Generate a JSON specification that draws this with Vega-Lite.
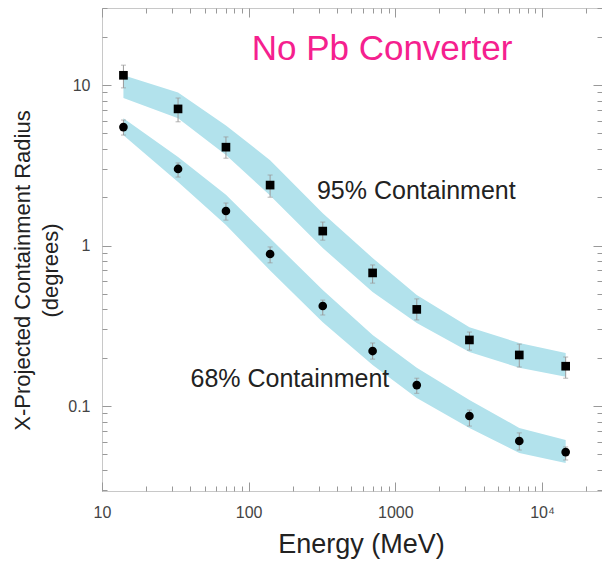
{
  "$schema": "https://vega.github.io/schema/vega-lite/v6.json",
  "autosize": "none",
  "padding": {"left": 102, "top": 8, "right": 0, "bottom": 70},
  "width": 500,
  "height": 483,
  "background": "white",
  "config": {
    "view": {"stroke": "#c8c8c8", "strokeWidth": 1},
    "font": "Liberation Sans",
    "axis": {"domain": false, "grid": false, "ticks": true, "tickColor": "#999", "tickWidth": 1, "labelOverlap": false, "labelFlush": false}
  },
  "datasets": {
    "pts": [
      {"series": "95%", "energy": 14, "radius": 11.5, "errLo": 9.6, "errHi": 13.3, "bandLo": 8.3, "bandHi": 11.5},
      {"series": "95%", "energy": 33, "radius": 7.1, "errLo": 5.9, "errHi": 8.3, "bandLo": 6.2, "bandHi": 9.0},
      {"series": "95%", "energy": 70, "radius": 4.1, "errLo": 3.5, "errHi": 4.75, "bandLo": 3.66, "bandHi": 5.6},
      {"series": "95%", "energy": 140, "radius": 2.38, "errLo": 2.0, "errHi": 2.75, "bandLo": 2.05, "bandHi": 3.4},
      {"series": "95%", "energy": 320, "radius": 1.23, "errLo": 1.08, "errHi": 1.4, "bandLo": 0.965, "bandHi": 1.59},
      {"series": "95%", "energy": 700, "radius": 0.675, "errLo": 0.583, "errHi": 0.757, "bandLo": 0.513, "bandHi": 0.836},
      {"series": "95%", "energy": 1400, "radius": 0.4, "errLo": 0.344, "errHi": 0.465, "bandLo": 0.329, "bandHi": 0.492},
      {"series": "95%", "energy": 3200, "radius": 0.258, "errLo": 0.223, "errHi": 0.289, "bandLo": 0.217, "bandHi": 0.31},
      {"series": "95%", "energy": 7000, "radius": 0.208, "errLo": 0.175, "errHi": 0.243, "bandLo": 0.173, "bandHi": 0.247},
      {"series": "95%", "energy": 14500, "radius": 0.177, "errLo": 0.149, "errHi": 0.202, "bandLo": 0.152, "bandHi": 0.214},
      {"series": "68%", "energy": 14, "radius": 5.47, "errLo": 4.88, "errHi": 6.05, "bandLo": 4.87, "bandHi": 6.2},
      {"series": "68%", "energy": 33, "radius": 3.0, "errLo": 2.67, "errHi": 3.27, "bandLo": 2.49, "bandHi": 3.56},
      {"series": "68%", "energy": 70, "radius": 1.64, "errLo": 1.44, "errHi": 1.84, "bandLo": 1.34, "bandHi": 2.07},
      {"series": "68%", "energy": 140, "radius": 0.885, "errLo": 0.78, "errHi": 0.98, "bandLo": 0.7, "bandHi": 1.11},
      {"series": "68%", "energy": 320, "radius": 0.42, "errLo": 0.369, "errHi": 0.457, "bandLo": 0.333, "bandHi": 0.528},
      {"series": "68%", "energy": 700, "radius": 0.22, "errLo": 0.196, "errHi": 0.247, "bandLo": 0.18, "bandHi": 0.277},
      {"series": "68%", "energy": 1400, "radius": 0.135, "errLo": 0.12, "errHi": 0.149, "bandLo": 0.112, "bandHi": 0.173},
      {"series": "68%", "energy": 3200, "radius": 0.0867, "errLo": 0.075, "errHi": 0.0944, "bandLo": 0.073, "bandHi": 0.109},
      {"series": "68%", "energy": 7000, "radius": 0.0605, "errLo": 0.0532, "errHi": 0.068, "bandLo": 0.051, "bandHi": 0.073},
      {"series": "68%", "energy": 14500, "radius": 0.0516, "errLo": 0.0461, "errHi": 0.0556, "bandLo": 0.0442, "bandHi": 0.0614}
    ],
    "notes": [
      {"label": "No Pb Converter", "kind": "title", "energy": 811, "radius": 16.8},
      {"label": "95% Containment", "kind": "note", "energy": 1390, "radius": 2.2},
      {"label": "68% Containment", "kind": "note", "energy": 191, "radius": 0.147}
    ]
  },
  "resolve": {"axis": {"x": "independent", "y": "independent"}},
  "layer": [
    {
      "data": {"name": "pts"},
      "mark": {"type": "area", "color": "#B2E2EC", "opacity": 1, "interpolate": "linear"},
      "encoding": {
        "detail": {"field": "series"},
        "x": {
          "field": "energy", "type": "quantitative",
          "scale": {"type": "log", "domain": [10, 25650], "nice": false, "zero": false},
          "axis": {
            "orient": "bottom",
            "values": [10, 100, 1000, 10000],
            "labelExpr": "datum.value==10?'10':datum.value==100?'100':datum.value==1000?'1000':'10⁴'",
            "labelFont": "Liberation Sans", "labelFontSize": 16, "labelColor": "#444",
            "labelPadding": 22,
            "tickSize": -9,
            "title": "Energy (MeV)",
            "titleFont": "Liberation Sans", "titleFontSize": 27, "titleFontWeight": "normal", "titleColor": "#222",
            "titleX": 259, "titleY": 61, "titleAlign": "center", "titleBaseline": "alphabetic", "titleAnchor": null
          }
        },
        "y": {
          "field": "bandLo", "type": "quantitative",
          "scale": {"type": "log", "domain": [0.02954, 30.2], "nice": false, "zero": false},
          "axis": {
            "orient": "left",
            "values": [0.1, 1, 10],
            "labelExpr": "datum.value==0.1?'0.1':datum.value==1?'1':'10'",
            "labelFont": "Liberation Sans", "labelFontSize": 16, "labelColor": "#444",
            "labelPadding": 21,
            "tickSize": -9,
            "title": ["X-Projected Containment Radius", "(degrees)"],
            "titleFont": "Liberation Sans", "titleFontSize": 22, "titleFontWeight": "normal", "titleColor": "#222",
            "titleLineHeight": 28,
            "titleAngle": -90, "titleX": -80, "titleY": 262, "titleAlign": "center", "titleBaseline": "middle", "titleAnchor": null
          }
        },
        "y2": {"field": "bandHi"}
      }
    },
    {
      "data": {"name": "pts"},
      "mark": {"type": "rule", "color": "#999", "strokeWidth": 1},
      "encoding": {
        "x": {
          "field": "energy", "type": "quantitative",
          "axis": {"orient": "top", "values": [10, 100, 1000, 10000], "labels": false, "title": null, "tickSize": -9}
        },
        "y": {
          "field": "errLo", "type": "quantitative",
          "axis": {"orient": "right", "values": [0.1, 1, 10], "labels": false, "title": null, "tickSize": -9}
        },
        "y2": {"field": "errHi"}
      }
    },
    {
      "data": {"name": "pts"},
      "mark": {"type": "tick", "orient": "horizontal", "color": "#999", "size": 5, "thickness": 1},
      "encoding": {
        "x": {
          "field": "energy", "type": "quantitative",
          "axis": {"orient": "bottom", "values": [20,30,40,50,60,70,80,90,200,300,400,500,600,700,800,900,2000,3000,4000,5000,6000,7000,8000,9000,20000], "labels": false, "title": null, "tickSize": -5}
        },
        "y": {
          "field": "errHi", "type": "quantitative",
          "axis": {"orient": "left", "values": [0.03,0.04,0.05,0.06,0.07,0.08,0.09,0.2,0.3,0.4,0.5,0.6,0.7,0.8,0.9,2,3,4,5,6,7,8,9,20,30], "labels": false, "title": null, "tickSize": -5}
        }
      }
    },
    {
      "data": {"name": "pts"},
      "mark": {"type": "tick", "orient": "horizontal", "color": "#999", "size": 5, "thickness": 1},
      "encoding": {
        "x": {
          "field": "energy", "type": "quantitative",
          "axis": {"orient": "top", "values": [20,30,40,50,60,70,80,90,200,300,400,500,600,700,800,900,2000,3000,4000,5000,6000,7000,8000,9000,20000], "labels": false, "title": null, "tickSize": -5}
        },
        "y": {
          "field": "errLo", "type": "quantitative",
          "axis": {"orient": "right", "values": [0.03,0.04,0.05,0.06,0.07,0.08,0.09,0.2,0.3,0.4,0.5,0.6,0.7,0.8,0.9,2,3,4,5,6,7,8,9,20,30], "labels": false, "title": null, "tickSize": -5}
        }
      }
    },
    {
      "data": {"name": "pts"},
      "mark": {"type": "point", "filled": true, "color": "black", "opacity": 1, "size": 75},
      "encoding": {
        "x": {"field": "energy", "type": "quantitative", "axis": null},
        "y": {"field": "radius", "type": "quantitative", "axis": null},
        "shape": {"field": "series", "type": "nominal", "scale": {"domain": ["95%", "68%"], "range": ["square", "circle"]}, "legend": null}
      }
    },
    {
      "data": {"name": "notes"},
      "transform": [{"filter": "datum.kind == 'title'"}],
      "mark": {"type": "text", "font": "Liberation Sans", "fontSize": 35, "color": "#F5208E", "align": "center", "baseline": "middle"},
      "encoding": {
        "x": {"field": "energy", "type": "quantitative", "axis": null},
        "y": {"field": "radius", "type": "quantitative", "axis": null},
        "text": {"field": "label"}
      }
    },
    {
      "data": {"name": "notes"},
      "transform": [{"filter": "datum.kind == 'note'"}],
      "mark": {"type": "text", "font": "Liberation Sans", "fontSize": 25, "color": "#222", "align": "center", "baseline": "middle"},
      "encoding": {
        "x": {"field": "energy", "type": "quantitative", "axis": null},
        "y": {"field": "radius", "type": "quantitative", "axis": null},
        "text": {"field": "label"}
      }
    }
  ]
}
